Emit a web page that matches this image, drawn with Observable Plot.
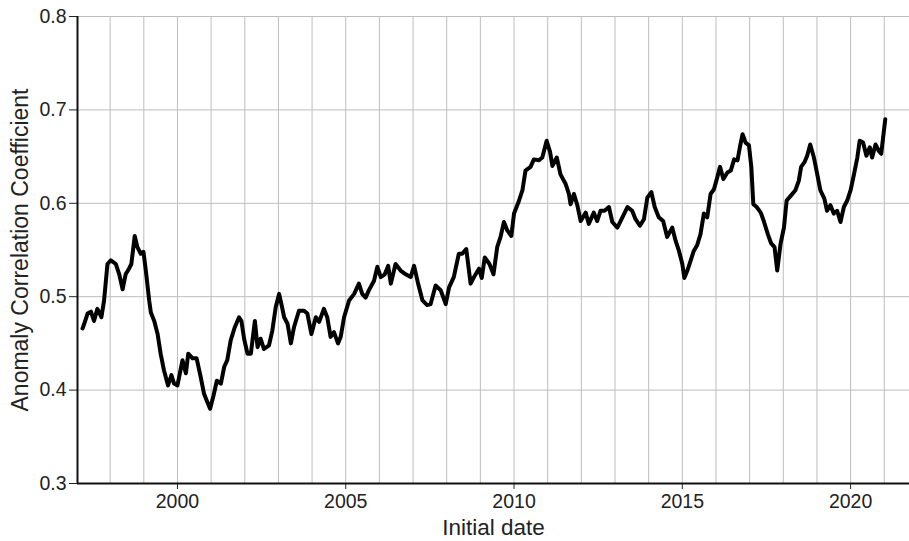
<!DOCTYPE html>
<html>
<head>
<meta charset="utf-8">
<script src="https://cdn.jsdelivr.net/npm/d3@7"></script>
<script src="https://cdn.jsdelivr.net/npm/@observablehq/plot@0.6"></script>
<style>
  html, body { margin: 0; padding: 0; background: #fff; }
  #chart svg { display: block; }
</style>
</head>
<body>
<div id="chart"></div>
<script>
const years = [
  1997.18,1997.23,1997.33,1997.43,1997.52,1997.62,1997.74,1997.82,1997.92,1998.02,
  1998.17,1998.27,1998.37,1998.46,1998.56,1998.63,1998.73,1998.81,1998.91,1998.99,
  1999.06,1999.16,1999.21,1999.31,1999.41,1999.50,1999.60,1999.72,1999.82,1999.90,
  2000.00,2000.15,2000.25,2000.32,2000.45,2000.57,2000.69,2000.79,2000.89,2000.97,
  2001.07,2001.17,2001.29,2001.39,2001.48,2001.58,2001.70,2001.83,2001.90,2001.98,
  2002.08,2002.18,2002.30,2002.38,2002.47,2002.57,2002.72,2002.82,2002.92,2003.02,
  2003.10,2003.17,2003.27,2003.37,2003.46,2003.61,2003.76,2003.86,2003.98,2004.11,
  2004.21,2004.35,2004.45,2004.55,2004.65,2004.77,2004.85,2004.95,2005.10,2005.25,
  2005.39,2005.49,2005.59,2005.69,2005.84,2005.94,2006.04,2006.16,2006.26,2006.34,
  2006.48,2006.63,2006.78,2006.93,2007.03,2007.15,2007.28,2007.42,2007.52,2007.67,
  2007.82,2007.97,2008.07,2008.21,2008.36,2008.46,2008.58,2008.71,2008.81,2008.96,
  2009.04,2009.13,2009.27,2009.39,2009.50,2009.60,2009.70,2009.80,2009.92,2010.00,
  2010.15,2010.25,2010.34,2010.49,2010.59,2010.74,2010.84,2010.97,2011.07,2011.14,
  2011.27,2011.38,2011.53,2011.63,2011.68,2011.78,2011.88,2011.98,2012.13,2012.22,
  2012.37,2012.47,2012.57,2012.69,2012.82,2012.92,2013.07,2013.22,2013.37,2013.51,
  2013.61,2013.74,2013.86,2013.96,2014.08,2014.18,2014.30,2014.43,2014.55,2014.70,
  2014.80,2014.90,2015.00,2015.06,2015.15,2015.25,2015.34,2015.44,2015.54,2015.64,
  2015.74,2015.84,2015.94,2016.04,2016.12,2016.22,2016.34,2016.44,2016.54,2016.64,
  2016.71,2016.79,2016.88,2016.98,2017.05,2017.11,2017.21,2017.33,2017.42,2017.54,
  2017.64,2017.74,2017.82,2017.92,2018.02,2018.10,2018.22,2018.36,2018.46,2018.53,
  2018.63,2018.71,2018.80,2018.91,2019.01,2019.10,2019.22,2019.30,2019.40,2019.50,
  2019.60,2019.70,2019.80,2019.90,2020.00,2020.10,2020.20,2020.27,2020.37,2020.47,
  2020.57,2020.64,2020.74,2020.84,2020.91,2021.03
];
const acc = [
  0.466,0.471,0.482,0.484,0.474,0.487,0.478,0.496,0.535,0.539,
  0.535,0.524,0.508,0.524,0.530,0.535,0.565,0.553,0.546,0.548,
  0.528,0.496,0.483,0.474,0.460,0.439,0.421,0.405,0.416,0.407,
  0.405,0.432,0.418,0.439,0.434,0.434,0.414,0.396,0.387,0.380,
  0.394,0.410,0.407,0.425,0.432,0.453,0.467,0.478,0.474,0.455,
  0.439,0.439,0.474,0.446,0.455,0.444,0.448,0.464,0.489,0.503,
  0.490,0.478,0.471,0.450,0.467,0.485,0.485,0.482,0.460,0.478,
  0.473,0.487,0.478,0.457,0.462,0.450,0.457,0.478,0.496,0.503,
  0.514,0.503,0.499,0.507,0.517,0.532,0.521,0.524,0.533,0.514,
  0.535,0.528,0.524,0.521,0.533,0.514,0.496,0.491,0.492,0.512,
  0.507,0.492,0.510,0.521,0.546,0.546,0.551,0.514,0.521,0.530,
  0.520,0.542,0.535,0.524,0.553,0.564,0.580,0.571,0.565,0.589,
  0.603,0.614,0.635,0.639,0.647,0.646,0.649,0.667,0.655,0.640,
  0.649,0.631,0.621,0.610,0.599,0.610,0.598,0.581,0.590,0.578,
  0.590,0.581,0.592,0.592,0.596,0.580,0.574,0.585,0.596,0.592,
  0.583,0.576,0.583,0.606,0.612,0.596,0.585,0.581,0.564,0.574,
  0.560,0.549,0.535,0.520,0.528,0.539,0.549,0.555,0.567,0.589,
  0.585,0.610,0.615,0.628,0.639,0.626,0.633,0.635,0.647,0.646,
  0.660,0.674,0.665,0.662,0.639,0.599,0.596,0.590,0.581,0.567,
  0.557,0.553,0.528,0.557,0.574,0.603,0.608,0.614,0.624,0.639,
  0.644,0.651,0.663,0.649,0.631,0.614,0.605,0.592,0.598,0.589,
  0.592,0.580,0.596,0.603,0.614,0.631,0.649,0.667,0.665,0.651,
  0.660,0.649,0.663,0.656,0.653,0.690
];
const xDomain = [1997.03, 2021.75];
const yDomain = [0.3, 0.8];
const xTickLabels = [2000, 2005, 2010, 2015, 2020];
const gridYears = [1998,1999,2000,2001,2002,2003,2004,2005,2006,2007,2008,2009,2010,
                   2011,2012,2013,2014,2015,2016,2017,2018,2019,2020,2021];
const yTicks = [0.3, 0.4, 0.5, 0.6, 0.7, 0.8];
const xLabel = "Initial date";
const yLabel = "Anomaly Correlation Coefficient";

const data = years.map((t, i) => ({t, v: acc[i]}));

const chart = Plot.plot({
  width: 909,
  height: 541,
  marginLeft: 77,
  marginRight: 0,
  marginTop: 16,
  marginBottom: 58,
  style: {fontFamily: "'Liberation Sans', Arial, sans-serif", color: "#222", background: "#fff"},
  x: {domain: xDomain},
  y: {domain: yDomain},
  marks: [
    Plot.gridX(gridYears, {stroke: "#bdbdbd", strokeOpacity: 1, strokeWidth: 1}),
    Plot.gridY(yTicks.filter(d => d > 0.3), {stroke: "#bdbdbd", strokeOpacity: 1, strokeWidth: 1}),
    Plot.axisX(xTickLabels, {tickSize: 6, tickPadding: 5, fontSize: 19.5, tickFormat: d => String(d), label: null, stroke: "#222"}),
    Plot.axisY(yTicks, {tickSize: 8, tickPadding: 3, fontSize: 19.5, tickFormat: d => d.toFixed(1), label: null, stroke: "#222"}),
    Plot.ruleY([yDomain[0]], {stroke: "#111", strokeWidth: 2}),
    Plot.ruleX([xDomain[0]], {stroke: "#111", strokeWidth: 2}),
    Plot.line(data, {x: "t", y: "v", stroke: "#000", strokeWidth: 4, strokeLinejoin: "round"}),
    Plot.text([xLabel], {frameAnchor: "bottom", dy: 51, lineAnchor: "bottom", textAnchor: "middle", fontSize: 22.5, fill: "#222"}),
    Plot.text([yLabel], {frameAnchor: "left", dx: -57, rotate: -90, lineAnchor: "middle", textAnchor: "middle", fontSize: 23, fill: "#222"})
  ]
});
document.getElementById("chart").appendChild(chart);
</script>
</body>
</html>
